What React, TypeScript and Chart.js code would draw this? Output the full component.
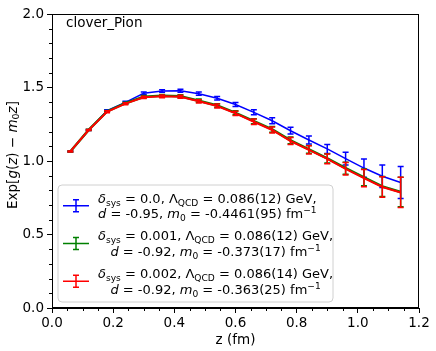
import React, { useEffect, useRef } from 'react';
import { Chart, registerables } from 'chart.js';

Chart.register(...registerables);

// ---------- data ----------
const zValues = [0.06, 0.12, 0.18, 0.24, 0.30, 0.36, 0.42, 0.48, 0.54, 0.60, 0.66, 0.72, 0.78, 0.84, 0.90, 0.96, 1.02, 1.08, 1.14];
const blueValues = [1.065, 1.211, 1.342, 1.399, 1.461, 1.476, 1.478, 1.458, 1.427, 1.384, 1.331, 1.274, 1.206, 1.143, 1.082, 1.016, 0.952, 0.896, 0.854];
const blueErrors = [0.003, 0.004, 0.006, 0.007, 0.008, 0.009, 0.010, 0.011, 0.012, 0.014, 0.017, 0.020, 0.023, 0.027, 0.031, 0.043, 0.062, 0.077, 0.109];
const greenValues = [1.065, 1.212, 1.337, 1.393, 1.437, 1.444, 1.441, 1.410, 1.378, 1.328, 1.271, 1.215, 1.140, 1.079, 1.018, 0.951, 0.888, 0.827, 0.789];
const greenErrors = [0.003, 0.004, 0.006, 0.007, 0.008, 0.009, 0.010, 0.011, 0.012, 0.014, 0.017, 0.020, 0.023, 0.027, 0.032, 0.041, 0.057, 0.068, 0.100];
const redValues = [1.065, 1.211, 1.335, 1.390, 1.433, 1.440, 1.437, 1.406, 1.374, 1.324, 1.267, 1.211, 1.136, 1.075, 1.014, 0.947, 0.884, 0.823, 0.786];
const redErrors = [0.003, 0.004, 0.006, 0.007, 0.008, 0.009, 0.010, 0.011, 0.013, 0.015, 0.018, 0.021, 0.024, 0.028, 0.033, 0.042, 0.059, 0.070, 0.103];

const xTickStep = 0.2;
const yTickStep = 0.5;
const xMinorStep = 0.05;
const yMinorStep = 0.1;

type Seg = { t: string; it?: boolean; sub?: boolean; sup?: boolean };

const panelLabel = 'clover_Pion';
const xTitle = 'z (fm)';
const yTitle: Seg[] = [
  { t: 'Exp[' }, { t: 'g', it: true }, { t: '(' }, { t: 'z', it: true }, { t: ')' },
  { t: ' − ' }, { t: 'm', it: true }, { t: '0', sub: true }, { t: 'z', it: true }, { t: ']' },
];

const legendBlue: Seg[][] = [
  [{ t: 'δ', it: true }, { t: 'sys', sub: true }, { t: ' = 0.0, ' }, { t: 'Λ' }, { t: 'QCD', sub: true }, { t: ' = 0.086(12) GeV,' }],
  [{ t: 'd', it: true }, { t: ' = -0.95, ' }, { t: 'm', it: true }, { t: '0', sub: true }, { t: ' = -0.4461(95) fm' }, { t: '−1', sup: true }],
];
const legendGreen: Seg[][] = [
  [{ t: 'δ', it: true }, { t: 'sys', sub: true }, { t: ' = 0.001, ' }, { t: 'Λ' }, { t: 'QCD', sub: true }, { t: ' = 0.086(12) GeV,' }],
  [{ t: 'd', it: true }, { t: ' = -0.92, ' }, { t: 'm', it: true }, { t: '0', sub: true }, { t: ' = -0.373(17) fm' }, { t: '−1', sup: true }],
];
const legendRed: Seg[][] = [
  [{ t: 'δ', it: true }, { t: 'sys', sub: true }, { t: ' = 0.002, ' }, { t: 'Λ' }, { t: 'QCD', sub: true }, { t: ' = 0.086(14) GeV,' }],
  [{ t: 'd', it: true }, { t: ' = -0.92, ' }, { t: 'm', it: true }, { t: '0', sub: true }, { t: ' = -0.363(25) fm' }, { t: '−1', sup: true }],
];

const BLUE = '#0000ff';
const GREEN = '#008000';
const RED = '#ff0000';
const FONT = '"DejaVu Sans"';

// ---------- rich text helpers ----------
function segFont(s: Seg, size: number) {
  const sz = s.sub || s.sup ? size * 0.7 : size;
  return `${s.it ? 'italic ' : ''}${sz}px ${FONT}`;
}
function measureRich(ctx: CanvasRenderingContext2D, segs: Seg[], size: number) {
  let w = 0;
  for (const s of segs) {
    ctx.font = segFont(s, size);
    w += ctx.measureText(s.t).width;
  }
  return w;
}
function drawRich(ctx: CanvasRenderingContext2D, segs: Seg[], x: number, y: number, size: number) {
  ctx.textBaseline = 'alphabetic';
  ctx.textAlign = 'left';
  for (const s of segs) {
    ctx.font = segFont(s, size);
    const dy = s.sub ? 0.22 * size : s.sup ? -0.4 * size : 0;
    ctx.fillText(s.t, x, y + dy);
    x += ctx.measureText(s.t).width;
  }
}

const errorBarPlugin = {
  id: 'errorBars',
  afterDatasetDraw(chart: any, args: any) {
    const ds = chart.data.datasets[args.index];
    const errs: number[] = ds.errors;
    if (!errs) return;
    const { ctx, scales } = chart;
    ctx.save();
    ctx.strokeStyle = ds.borderColor;
    ctx.lineWidth = 1.5;
    ds.data.forEach((p: any, i: number) => {
      const x = scales.x.getPixelForValue(p.x);
      const y1 = scales.y.getPixelForValue(p.y - errs[i]);
      const y2 = scales.y.getPixelForValue(p.y + errs[i]);
      ctx.beginPath();
      ctx.moveTo(x, y1); ctx.lineTo(x, y2);
      ctx.moveTo(x - 3, y1); ctx.lineTo(x + 3, y1);
      ctx.moveTo(x - 3, y2); ctx.lineTo(x + 3, y2);
      ctx.stroke();
    });
    ctx.restore();
  },
};

const decorPlugin = {
  id: 'decor',
  afterDraw(chart: any) {
    const { ctx, chartArea: a, scales } = chart;
    ctx.save();
    // frame
    ctx.strokeStyle = '#000';
    ctx.lineWidth = 1;
    ctx.strokeRect(Math.round(a.left) + 0.5, Math.round(a.top) + 0.5, Math.round(a.right - a.left) - 1, Math.round(a.bottom - a.top) - 1);
    // minor ticks
    ctx.beginPath();
    for (let v = xMinorStep; v < 1.2 - 1e-9; v += xMinorStep) {
      if (Math.abs(v / xTickStep - Math.round(v / xTickStep)) < 1e-6) continue;
      const x = Math.round(scales.x.getPixelForValue(v)) + 0.5;
      ctx.moveTo(x, a.bottom); ctx.lineTo(x, a.bottom + 3);
    }
    for (let v = yMinorStep; v < 2 - 1e-9; v += yMinorStep) {
      if (Math.abs(v / yTickStep - Math.round(v / yTickStep)) < 1e-6) continue;
      const y = Math.round(scales.y.getPixelForValue(v)) + 0.5;
      ctx.moveTo(a.left - 3, y); ctx.lineTo(a.left, y);
    }
    ctx.stroke();

    ctx.fillStyle = '#000';
    // panel label
    ctx.font = `13.5px ${FONT}`;
    ctx.textAlign = 'left';
    ctx.textBaseline = 'alphabetic';
    ctx.fillText(panelLabel, 66, 27);

    // x title
    ctx.textAlign = 'center';
    ctx.fillText(xTitle, (a.left + a.right) / 2, 344);

    // y title (rotated)
    const yw = measureRich(ctx, yTitle, 13.5);
    ctx.save();
    ctx.translate(16.5, 155 + yw / 2);
    ctx.rotate(-Math.PI / 2);
    drawRich(ctx, yTitle, 0, 0, 13.5);
    ctx.restore();

    // legend
    const lx = 58, ly = 185, lw = 275, lh = 117, r = 4;
    ctx.beginPath();
    ctx.moveTo(lx + r, ly);
    ctx.arcTo(lx + lw, ly, lx + lw, ly + lh, r);
    ctx.arcTo(lx + lw, ly + lh, lx, ly + lh, r);
    ctx.arcTo(lx, ly + lh, lx, ly, r);
    ctx.arcTo(lx, ly, lx + lw, ly, r);
    ctx.closePath();
    ctx.fillStyle = 'rgba(255,255,255,0.8)';
    ctx.fill();
    ctx.strokeStyle = '#d0d0d0';
    ctx.lineWidth = 1;
    ctx.stroke();

    const entries: [Seg[][], string][] = [[legendBlue, BLUE], [legendGreen, GREEN], [legendRed, RED]];
    const fs = 13;
    const lineH = 15.6;
    let top = ly + 5.2;
    for (const [lines, color] of entries) {
      const cy = top + lineH;
      // handle
      ctx.strokeStyle = color;
      ctx.lineWidth = 1.5;
      ctx.beginPath();
      ctx.moveTo(63, cy); ctx.lineTo(89, cy);
      ctx.moveTo(76, cy - 6); ctx.lineTo(76, cy + 6);
      ctx.moveTo(73, cy - 6); ctx.lineTo(79, cy - 6);
      ctx.moveTo(73, cy + 6); ctx.lineTo(79, cy + 6);
      ctx.stroke();
      // text
      ctx.fillStyle = '#000';
      const widths = lines.map((l) => measureRich(ctx, l, fs));
      const bw = Math.max(...widths);
      lines.forEach((l, i) => {
        const base = top + lineH * i + lineH / 2 + 4.7;
        drawRich(ctx, l, 98 + (bw - widths[i]) / 2, base, fs);
      });
      top += 2 * lineH + 6.5;
    }
    ctx.restore();
  },
};

export default function App() {
  const ref = useRef<HTMLCanvasElement | null>(null);
  useEffect(() => {
    if (!ref.current) return;
    Chart.defaults.font.family = FONT;
    const mk = (vals: number[]) => zValues.map((z, i) => ({ x: z, y: vals[i] }));
    const chart = new Chart(ref.current, {
      type: 'line',
      data: {
        datasets: [
          { label: 'red', data: mk(redValues), errors: redErrors, borderColor: RED, backgroundColor: RED, borderWidth: 2, pointRadius: 0, order: 0 } as any,
          { label: 'green', data: mk(greenValues), errors: greenErrors, borderColor: GREEN, backgroundColor: GREEN, borderWidth: 2.5, pointRadius: 0, order: 1 } as any,
          { label: 'blue', data: mk(blueValues), errors: blueErrors, borderColor: BLUE, backgroundColor: BLUE, borderWidth: 1.5, pointRadius: 0, order: 2 } as any,
        ],
      },
      options: {
        responsive: false,
        animation: false,
        events: [],
        layout: { padding: { top: 14, right: 17, left: 0, bottom: 0 } },
        plugins: { legend: { display: false }, tooltip: { enabled: false } },
        scales: {
          x: {
            type: 'linear',
            min: 0,
            max: 1.2,
            ticks: { stepSize: xTickStep, color: '#000', font: { size: 13.5 }, padding: 2, maxRotation: 0, callback: (v: any) => Number(v).toFixed(1) },
            grid: { drawOnChartArea: false, drawTicks: true, tickLength: 5, color: '#000' },
            border: { display: true, color: '#000', width: 1 },
            afterFit: (s: any) => { s.height = 43; },
          },
          y: {
            type: 'linear',
            min: 0,
            max: 2,
            ticks: { stepSize: yTickStep, color: '#000', font: { size: 13.5 }, padding: 3, callback: (v: any) => Number(v).toFixed(1) },
            grid: { drawOnChartArea: false, drawTicks: true, tickLength: 5, color: '#000' },
            border: { display: true, color: '#000', width: 1 },
            afterFit: (s: any) => { s.width = 52; },
          },
        },
      } as any,
      plugins: [errorBarPlugin, decorPlugin],
    });
    return () => chart.destroy();
  }, []);
  return (
    <div style={{ position: 'absolute', left: 0, top: 0, width: 436, height: 351, background: '#fff' }}>
      <canvas ref={ref} width={436} height={351} style={{ display: 'block' }} />
    </div>
  );
}
